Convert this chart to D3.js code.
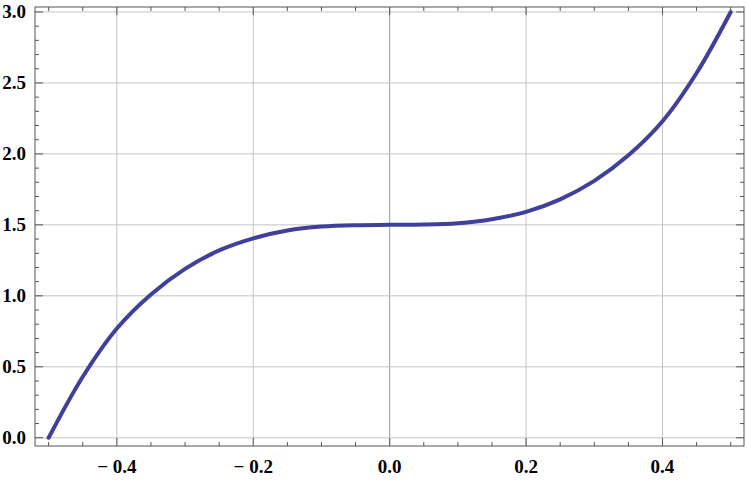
<!DOCTYPE html>
<html>
<head>
<meta charset="utf-8">
<script src="https://cdn.jsdelivr.net/npm/d3@7"></script>
<style>
  body { margin: 0; background: #fff; }
  text { font-family: "Liberation Serif", "DejaVu Serif", serif; font-weight: bold; }
</style>
</head>
<body>
<div id="chart"></div>
<script>
// values
var xs = [-0.5, -0.45, -0.4, -0.35, -0.3, -0.25, -0.2, -0.15, -0.1, -0.05, 0,
          0.05, 0.1, 0.15, 0.2, 0.25, 0.3, 0.35, 0.4, 0.45, 0.5];
var ys = [0, 0.43, 0.77, 1.01, 1.19, 1.32, 1.405, 1.46, 1.488, 1.498, 1.5,
          1.502, 1.512, 1.54, 1.592, 1.68, 1.81, 1.99, 2.23, 2.57, 3.0];
var xMajor = [-0.4, -0.2, 0.0, 0.2, 0.4];
var yMajor = [0.0, 0.5, 1.0, 1.5, 2.0, 2.5, 3.0];

function drawChart() {
  var W = 747, H = 480;
  var pL = 35, pR = 744, pT = 7, pB = 446;

  var svg = d3.select("#chart").append("svg")
      .attr("width", W)
      .attr("height", H);

  var x = d3.scaleLinear().domain([-0.52, 0.5195]).range([pL, pR]);
  var y = d3.scaleLinear().domain([-0.058, 3.035]).range([pB, pT]);

  // gridlines
  svg.selectAll(".vgrid").data(xMajor).enter().append("line")
      .attr("x1", d => x(d)).attr("x2", d => x(d))
      .attr("y1", pT).attr("y2", pB)
      .attr("stroke", d => d === 0 ? "#999" : "#c4c4c4")
      .attr("stroke-width", 1);
  svg.selectAll(".hgrid").data(yMajor).enter().append("line")
      .attr("x1", pL).attr("x2", pR)
      .attr("y1", d => y(d)).attr("y2", d => y(d))
      .attr("stroke", "#c4c4c4")
      .attr("stroke-width", 1);

  // curve
  var line = d3.line()
      .x((d, i) => x(xs[i]))
      .y(d => y(d))
      .curve(d3.curveCatmullRom);
  svg.append("path")
      .datum(ys)
      .attr("d", line)
      .attr("fill", "none")
      .attr("stroke", "#3f3f9c")
      .attr("stroke-width", 4)
      .attr("stroke-linecap", "round");

  // frame
  svg.append("rect")
      .attr("x", pL).attr("y", pT)
      .attr("width", pR - pL).attr("height", pB - pT)
      .attr("fill", "none")
      .attr("stroke", "#555")
      .attr("stroke-width", 1);

  // ticks
  var xTicks = d3.range(-10, 11).map(d => d * 0.05);
  var yTicks = d3.range(0, 31).map(d => d * 0.1);
  function isMajorX(d) { return Math.abs(Math.round(d * 5) - d * 5) < 1e-6; }
  function isMajorY(d) { return Math.abs(Math.round(d * 2) - d * 2) < 1e-6; }

  var tg = svg.append("g").attr("stroke", "#555").attr("stroke-width", 1);
  xTicks.forEach(function(d) {
    var len = isMajorX(d) ? 8 : 4;
    tg.append("line").attr("x1", x(d)).attr("x2", x(d)).attr("y1", pB).attr("y2", pB - len);
    tg.append("line").attr("x1", x(d)).attr("x2", x(d)).attr("y1", pT).attr("y2", pT + len);
  });
  yTicks.forEach(function(d) {
    var len = isMajorY(d) ? 8 : 4;
    tg.append("line").attr("x1", pL).attr("x2", pL + len).attr("y1", y(d)).attr("y2", y(d));
    tg.append("line").attr("x1", pR).attr("x2", pR - len).attr("y1", y(d)).attr("y2", y(d));
  });

  // labels
  svg.selectAll(".xl").data(xMajor).enter().append("text")
      .attr("x", d => x(d))
      .attr("y", 473)
      .attr("text-anchor", "middle")
      .attr("font-size", 19)
      .text(d => d < 0 ? "\u2212 " + Math.abs(d).toFixed(1) : d.toFixed(1));
  svg.selectAll(".yl").data(yMajor).enter().append("text")
      .attr("x", 26)
      .attr("y", d => y(d) + 6)
      .attr("text-anchor", "end")
      .attr("font-size", 19)
      .text(d => d.toFixed(1));
}
drawChart();
</script>
</body>
</html>
